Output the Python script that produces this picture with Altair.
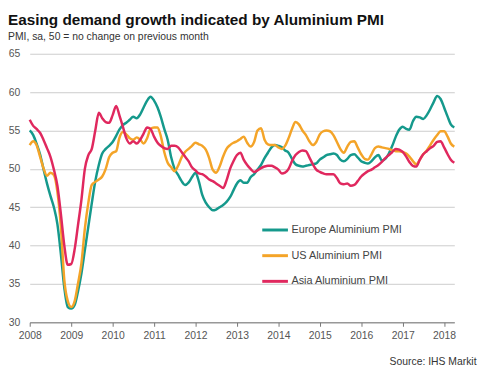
import altair as alt
import pandas as pd

start_month = "2008-01-01"

europe = [
    55.0, 54.4, 53.3, 51.9, 50.0, 48.1, 46.5, 45.0, 42.8, 39.0, 34.5, 32.0,
    31.8, 32.3, 34.0, 36.4, 39.4, 42.5, 45.5, 48.4, 50.5, 52.0, 52.6, 53.0,
    53.5, 54.3, 55.1, 55.7, 56.0, 56.4, 56.8, 56.6, 57.1, 58.0, 58.9, 59.4,
    58.9, 58.0, 56.8, 55.2, 53.8, 51.5, 50.0, 49.2, 48.4, 47.9, 48.2, 48.9,
    49.5, 48.3, 46.6, 45.6, 45.0, 44.6, 44.7, 45.0, 45.3, 45.7, 46.3, 47.2,
    48.1, 48.5, 48.2, 48.2, 48.9, 49.3, 49.9, 50.5, 51.4, 52.1, 52.8, 53.1,
    53.0, 52.8, 52.4, 52.1, 51.3, 50.6, 50.4, 50.3, 50.4, 50.5, 50.6, 50.7,
    51.2, 51.5, 51.8, 51.9, 52.0, 51.8, 51.2, 51.0, 51.3, 51.8, 51.9, 51.5,
    51.0, 50.8, 50.7, 51.0, 51.5, 51.8, 51.1, 51.3, 52.0, 53.0, 54.2, 55.1,
    55.5, 55.2, 55.1, 56.2, 56.8, 56.7, 56.5, 57.0, 57.8, 58.7, 59.5, 59.1,
    58.0, 56.8, 55.8, 55.4,
]

us = [
    53.1, 53.6, 53.1, 51.6, 50.1, 49.1, 49.5, 49.2, 47.0, 42.6, 35.5, 32.8,
    32.0, 32.8, 35.0, 37.7, 42.2, 45.6, 47.9, 48.3, 48.6, 49.0, 50.0, 51.5,
    52.1, 52.3, 54.0, 54.8, 54.5, 54.0, 53.8, 54.1, 53.8, 53.3, 54.0, 55.2,
    55.4, 55.4, 54.3, 52.2, 50.8, 50.2, 49.7, 50.4, 51.5, 52.2, 52.6, 53.0,
    53.4, 53.2, 53.0, 52.5, 51.4, 49.9, 49.5, 50.3, 51.6, 52.6, 53.1, 53.4,
    53.6, 53.9, 54.2, 53.4, 52.9, 53.5, 55.0, 55.3, 53.8, 53.2, 53.1, 53.1,
    52.8, 52.6, 53.0, 54.0, 55.2, 56.1, 55.8, 55.0, 54.4, 53.6, 53.1, 53.5,
    54.5, 54.9, 55.0, 54.9, 54.4, 53.5, 52.6, 52.1, 52.9, 53.5, 53.6, 52.8,
    51.9, 51.3, 51.2, 51.9, 52.7, 52.9, 52.8, 52.7, 52.6, 52.4, 52.3, 52.3,
    52.2, 52.0, 51.6, 51.0, 50.6, 51.2, 51.9, 52.4, 53.1, 53.8, 54.4, 54.9,
    54.9, 54.2, 53.3, 52.9,
]

asia = [
    56.4, 55.6, 55.2, 54.7, 53.8, 52.7, 51.6, 49.9, 47.8, 44.2, 40.0, 37.5,
    37.6, 39.6, 42.6, 46.0, 50.0, 51.8, 52.6, 55.0, 57.3, 56.6, 56.1, 56.0,
    57.0, 58.2, 57.0, 55.5, 54.0, 53.3, 53.6, 53.3, 53.8, 54.6, 55.4, 55.2,
    54.2, 53.4, 53.0, 52.7, 52.6, 53.0, 53.0, 52.8, 52.2, 51.6, 51.0, 50.2,
    49.8, 49.4, 49.3, 49.0, 48.6, 48.4, 48.1, 47.8, 47.5, 48.5, 50.0, 51.0,
    51.8, 52.1, 51.2, 50.5, 50.0, 49.6, 49.8, 50.1, 50.3, 50.4, 50.4, 50.2,
    49.9, 49.4, 49.5, 50.0, 51.0, 51.8, 52.2, 52.4, 52.3, 51.5, 50.6, 49.9,
    49.6, 49.4, 49.3, 49.3, 49.3, 48.8, 48.1, 48.0, 48.1, 47.8, 47.9, 48.4,
    49.0, 49.4, 49.7, 49.9, 50.2, 50.5, 50.9, 51.4, 51.8, 52.2, 52.6, 52.5,
    52.2, 51.6, 50.9, 50.4, 50.3, 51.2, 51.9, 52.3, 52.7, 53.0, 53.5, 53.6,
    52.8, 51.9, 51.2, 50.8,
]

series_names = ["Europe Aluminium PMI", "US Aluminium PMI", "Asia Aluminium PMI"]
series_colors = ["#15998c", "#f4a428", "#e0285e"]
y_ticks = [30, 35, 40, 45, 50, 55, 60, 65]
x_years = list(range(2008, 2019))

FONT = "Liberation Sans, Arial, sans-serif"

months = pd.date_range(start_month, periods=len(europe), freq="MS").strftime("%Y-%m-%dT00:00:00")
frames = []
for name, vals in zip(series_names, [europe, us, asia]):
    frames.append(pd.DataFrame({"date": list(months), "value": vals, "series": name}))
df = pd.concat(frames, ignore_index=True)

chart = (
    alt.Chart(df)
    .mark_line(strokeWidth=2.5, interpolate="monotone")
    .encode(
        x=alt.X(
            "date:T",
            scale=alt.Scale(nice=False),
            axis=alt.Axis(
                values=[alt.DateTime(year=y, month=1, date=1) for y in x_years],
                format="%Y",
                grid=False,
                domainColor="#777777",
                tickColor="#777777",
                tickSize=4,
                labelPadding=4,
                labelFlush=False,
                labelOverlap=False,
                labelFontSize=10.5,
                labelColor="#555555",
                labelFont=FONT,
                title="Source: IHS Markit",
                titleFont=FONT,
                titleFontSize=10.5,
                titleFontWeight="normal",
                titleColor="#333333",
                titleAnchor="end",
                titleAlign="right",
                titleBaseline="middle",
                titleX=452,
                titleY=40,
            ),
        ),
        y=alt.Y(
            "value:Q",
            scale=alt.Scale(domain=[30, 65], nice=False, zero=False),
            axis=alt.Axis(
                values=y_ticks,
                title=None,
                domain=False,
                ticks=False,
                tickSize=0,
                labelPadding=10,
                labelFontSize=10.5,
                labelColor="#555555",
                labelFont=FONT,
                gridColor="#cccccc",
                gridWidth=1,
            ),
        ),
        color=alt.Color(
            "series:N",
            scale=alt.Scale(domain=series_names, range=series_colors),
            legend=alt.Legend(
                orient="none",
                legendX=234,
                legendY=164,
                title=None,
                symbolType="stroke",
                symbolSize=676,
                symbolStrokeWidth=3,
                labelOffset=2,
                rowPadding=5,
                padding=0,
                labelFontSize=11,
                labelFont=FONT,
                labelColor="#444444",
            ),
        ),
    )
    .properties(
        width=430,
        height=272,
        autosize=alt.AutoSizeParams(type="none"),
        padding={"left": 22, "top": 44, "right": 25, "bottom": 49},
        title=alt.TitleParams(
            text="Easing demand growth indicated by Aluminium PMI",
            subtitle="PMI, sa, 50 = no change on previous month",
            anchor="start",
            frame="group",
            dx=-22,
            offset=6,
            font=FONT,
            fontSize=15.5,
            fontWeight="bold",
            color="#111111",
            subtitleFont=FONT,
            subtitleFontSize=10.5,
            subtitleColor="#333333",
            subtitlePadding=4,
        ),
    )
    .configure_view(stroke=None)
)

chart.save("out.html", embed_options={"renderer": "svg", "actions": False})
